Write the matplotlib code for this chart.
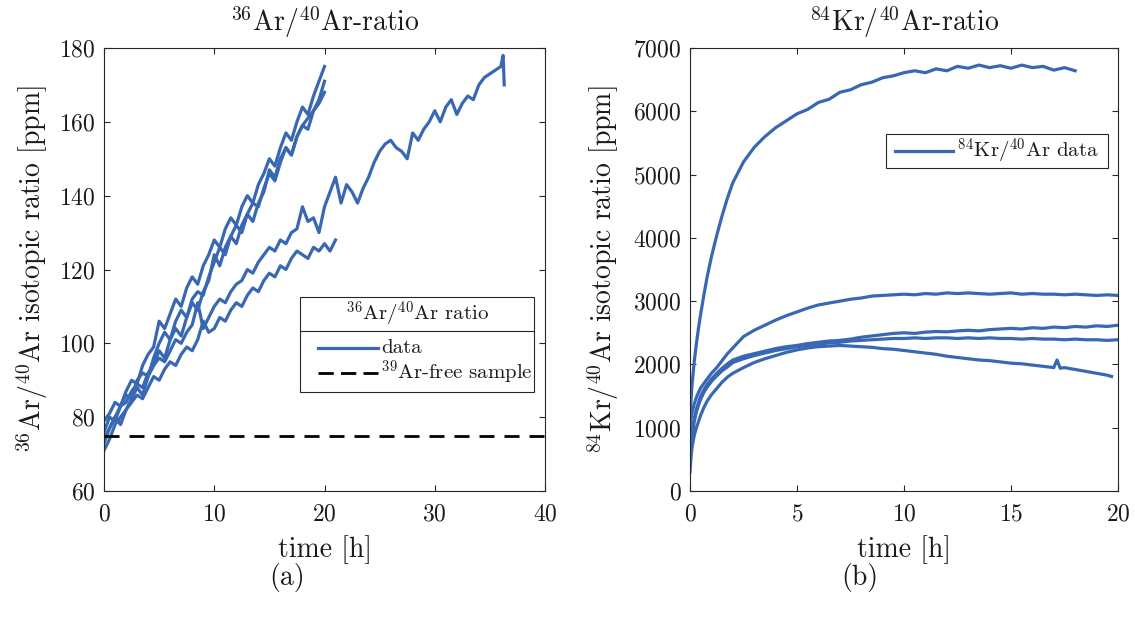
import numpy as np
import matplotlib
matplotlib.use("Agg")
import matplotlib.pyplot as plt
from matplotlib.patches import Rectangle
from matplotlib.lines import Line2D

plt.rcParams['font.family'] = ['cmr10', 'DejaVu Serif']
plt.rcParams['mathtext.fontset'] = 'cm'
plt.rcParams['axes.formatter.use_mathtext'] = True
plt.rcParams['axes.unicode_minus'] = False

BLUE = '#3968B3'

# ---------------- data: 36Ar/40Ar ratio (panel a) ----------------
t_ar_short = np.arange(0, 20.01, 0.5)
ar_u1 = [79, 81, 84, 83, 87, 90, 89, 94, 97, 99, 106, 104, 108, 112, 110, 115, 118, 116, 121, 124,
         128, 126, 131, 134, 132, 137, 140, 138, 143, 146, 150, 148, 153, 157, 155, 160, 164, 162, 167, 171, 175]
ar_u2 = [76, 80, 79, 83, 86, 85, 90, 92, 91, 96, 100, 103, 101, 106, 109, 107, 112, 114, 113, 118,
         122, 126, 124, 129, 132, 130, 135, 138, 137, 142, 146, 144, 149, 153, 151, 156, 159, 161, 163, 165, 168]
ar_u3 = [73, 77, 80, 78, 82, 85, 88, 86, 91, 94, 98, 96, 101, 104, 102, 107, 111, 109, 114, 117,
         124, 121, 126, 129, 127, 132, 135, 133, 138, 141, 147, 145, 150, 153, 151, 156, 159, 158, 163, 166, 171]

t_ar_l2 = np.arange(0, 21.01, 0.5)
ar_l2 = [71, 74, 78, 80, 82, 84, 86, 85, 88, 91, 90, 93, 95, 94, 97, 99, 98, 101, 106, 103,
         104, 107, 106, 109, 111, 110, 113, 115, 114, 117, 119, 118, 121, 120, 123, 125, 124, 123, 126, 125,
         127, 125, 128]

t_ar_l1 = list(np.arange(0, 36.01, 0.5)) + [36.2, 36.3]
ar_l1 = [74, 77, 80, 83, 84, 87, 89, 88, 92, 94, 96, 95, 98, 101, 100, 103, 105, 111, 104, 107,
         110, 112, 111, 114, 116, 117, 120, 119, 122, 124, 126, 125, 128, 127, 130, 131, 137, 133, 134, 130,
         137,
         141, 145, 138, 143, 141, 138, 142, 145, 149, 152, 154, 155, 153, 152, 150, 157, 155, 158, 160, 163,
         160, 164, 166, 162, 165, 167, 166, 170, 172, 173, 174, 175,
         178, 170]

ar_free_level = 75

# ---------------- data: 84Kr/40Ar ratio (panel b) ----------------
t_kr = [0, 0.05, 0.1, 0.2, 0.3, 0.4, 0.5, 0.65, 0.8, 1.0, 1.25, 1.5, 1.75, 2.0] + list(np.arange(2.5, 20.01, 0.5))
kr_1 = [1150, 1450, 1700, 2050, 2330, 2580, 2800, 3100, 3380, 3700, 4040, 4350, 4630, 4870,
        5200, 5430, 5600, 5740, 5850, 5960, 6030, 6140, 6190, 6300, 6340, 6420, 6460, 6530, 6560, 6610,
        6640, 6610, 6670, 6640, 6710, 6680, 6730, 6690, 6720, 6680, 6730, 6690, 6710, 6650, 6690, 6640]
kr_2 = [1010, 1150, 1250, 1380, 1480, 1560, 1630, 1700, 1770, 1860, 1950, 2060, 2170, 2260,
        2440, 2540, 2620, 2700, 2770, 2830, 2890, 2940, 2970, 3000, 3030, 3050, 3080, 3090, 3100, 3110,
        3100, 3120, 3110, 3130, 3120, 3130, 3120, 3110, 3120, 3130, 3110, 3120, 3110, 3110, 3100, 3110,
        3100, 3090, 3100, 3090]
kr_3 = [550, 800, 950, 1150, 1300, 1400, 1500, 1600, 1680, 1770, 1860, 1940, 2010, 2070,
        2130, 2170, 2210, 2250, 2280, 2300, 2330, 2350, 2370, 2380, 2400, 2430, 2450, 2470, 2490, 2500,
        2490, 2510, 2520, 2515, 2530, 2540, 2530, 2550, 2560, 2570, 2560, 2580, 2570, 2590, 2580, 2600,
        2590, 2610, 2600, 2620]
kr_4 = [400, 700, 880, 1100, 1250, 1360, 1450, 1560, 1640, 1730, 1820, 1900, 1960, 2030,
        2090, 2140, 2180, 2220, 2250, 2280, 2300, 2320, 2340, 2350, 2370, 2380, 2390, 2400, 2410, 2410,
        2420, 2410, 2420, 2420, 2410, 2420, 2410, 2420, 2410, 2410, 2400, 2410, 2400, 2400, 2390, 2400,
        2390, 2390, 2380, 2390]
t_kr5 = [0, 0.05, 0.1, 0.2, 0.3, 0.4, 0.5, 0.65, 0.8, 1.0, 1.25, 1.5, 1.75, 2.0,
         2.5, 3, 3.5, 4, 4.5, 5, 5.5, 6, 6.5, 7, 7.5, 8, 8.5, 9, 9.5, 10, 10.5, 11, 11.5, 12, 12.5,
         13, 13.5, 14, 14.5, 15, 15.5, 16, 16.5, 17, 17.15, 17.3, 17.5, 18, 18.5, 19, 19.5, 19.7]
kr_5 = [300, 550, 700, 880, 1000, 1100, 1200, 1320, 1420, 1520, 1620, 1720, 1800, 1860,
        1950, 2030, 2090, 2140, 2190, 2230, 2260, 2280, 2290, 2300, 2290, 2280, 2270, 2250, 2240, 2220,
        2200, 2180, 2160, 2130, 2110, 2090, 2070, 2060, 2040, 2020, 2010, 1990, 1970, 1950, 2070, 1940,
        1950, 1920, 1890, 1860, 1830, 1810]

# ---------------- figure ----------------
fig = plt.figure(figsize=(11.35, 6.19), dpi=100)
W, H = 1135, 619


def add_ax(x0, x1, ytop, ybot):
    return fig.add_axes([x0 / W, (H - ybot) / H, (x1 - x0) / W, (ybot - ytop) / H])


axA = add_ax(104, 545, 48, 491)
axB = add_ax(690, 1118, 48, 491)

TXT = '#1a1a1a'
for ax in (axA, axB):
    for s in ax.spines.values():
        s.set_color('#262626')
        s.set_linewidth(0.8)
    ax.tick_params(direction='in', length=4, width=0.8, color='#262626',
                   top=True, right=True, labelsize=17, labelcolor=TXT)
    ax.tick_params(axis='x', pad=9)
    ax.tick_params(axis='y', pad=6)

lw = 2.3
# panel a
for tt, yy in ((t_ar_short, ar_u1), (t_ar_short, ar_u2), (t_ar_short, ar_u3),
               (t_ar_l2, ar_l2), (t_ar_l1, ar_l1)):
    axA.plot(tt, yy, color=BLUE, lw=lw, solid_joinstyle='round')
axA.axhline(ar_free_level, color='black', lw=2.0, dashes=(5.4, 3.6))
axA.set_xlim(0, 40)
axA.set_ylim(60, 180)
axA.set_xticks([0, 10, 20, 30, 40])
axA.set_yticks([60, 80, 100, 120, 140, 160, 180])
axA.set_title(r'$^{36}$Ar/$^{40}$Ar-ratio', fontsize=20, pad=12, color=TXT)
axA.set_xlabel('time [h]', fontsize=20, labelpad=7, color=TXT)
axA.set_ylabel(r'$^{36}$Ar/$^{40}$Ar isotopic ratio [ppm]', fontsize=20, labelpad=7, color=TXT)

# panel b
for tt, yy in ((t_kr[:len(kr_1)], kr_1), (t_kr, kr_2), (t_kr, kr_3), (t_kr, kr_4), (t_kr5, kr_5)):
    axB.plot(tt, yy, color=BLUE, lw=lw, solid_joinstyle='round')
axB.set_xlim(0, 20)
axB.set_ylim(0, 7000)
axB.set_xticks([0, 5, 10, 15, 20])
axB.set_yticks(np.arange(0, 7001, 1000))
axB.set_title(r'$^{84}$Kr/$^{40}$Ar-ratio', fontsize=20, pad=12, color=TXT)
axB.set_xlabel('time [h]', fontsize=20, labelpad=7, color=TXT)
axB.set_ylabel(r'$^{84}$Kr/$^{40}$Ar isotopic ratio [ppm]', fontsize=20, labelpad=9, color=TXT)


def axfrac(px, py, x0, x1, ytop, ybot):
    return ((px - x0) / (x1 - x0), (ybot - py) / (ybot - ytop))


# legend panel a (MATLAB style with title separator)
A = (104, 545, 48, 491)
bx0, by0 = axfrac(300, 392, *A)
bx1, by1 = axfrac(534, 297, *A)
axA.add_patch(Rectangle((bx0, by0), bx1 - bx0, by1 - by0, transform=axA.transAxes,
                        facecolor='white', edgecolor='#262626', lw=0.8, zorder=5))
_, sy = axfrac(0, 331, *A)
axA.add_line(Line2D([bx0, bx1], [sy, sy], transform=axA.transAxes, color='#262626', lw=0.8, zorder=6))
tx, ty = axfrac(417, 314, *A)
axA.text(tx, ty, r'$^{36}$Ar/$^{40}$Ar ratio', transform=axA.transAxes, ha='center', va='center',
         fontsize=15, zorder=7, color=TXT)
lx0, ly1 = axfrac(318, 348, *A)
lx1, ly2 = axfrac(378, 373, *A)
axA.add_line(Line2D([lx0, lx1], [ly1, ly1], transform=axA.transAxes, color=BLUE, lw=lw, zorder=7))
axA.add_line(Line2D([lx0, lx1], [ly2, ly2], transform=axA.transAxes, color='black', lw=2.0,
                    dashes=(5.5, 2.6), zorder=7))
txt_x, _ = axfrac(381, 0, *A)
axA.text(txt_x, ly1, 'data', transform=axA.transAxes, ha='left', va='center', fontsize=15, zorder=7,
         color=TXT)
axA.text(txt_x, ly2, r'$^{39}$Ar-free sample', transform=axA.transAxes, ha='left', va='center',
         fontsize=15, zorder=7, color=TXT)

# legend panel b
B = (690, 1118, 48, 491)
cx0, cy0 = axfrac(886, 168, *B)
cx1, cy1 = axfrac(1108, 134, *B)
axB.add_patch(Rectangle((cx0, cy0), cx1 - cx0, cy1 - cy0, transform=axB.transAxes,
                        facecolor='white', edgecolor='#262626', lw=0.8, zorder=5))
mx0, my = axfrac(895, 151, *B)
mx1, _ = axfrac(953, 151, *B)
axB.add_line(Line2D([mx0, mx1], [my, my], transform=axB.transAxes, color=BLUE, lw=lw, zorder=7))
mtx, _ = axfrac(957, 0, *B)
axB.text(mtx, my, r'$^{84}$Kr/$^{40}$Ar data', transform=axB.transAxes, ha='left', va='center',
         fontsize=15, zorder=7, color=TXT)

# sub-figure captions
fig.text(287 / W, 1 - 578 / H, '(a)', ha='center', va='center', fontsize=20, color=TXT)
fig.text(860 / W, 1 - 578 / H, '(b)', ha='center', va='center', fontsize=20, color=TXT)

fig.savefig('out.png', dpi=100)
